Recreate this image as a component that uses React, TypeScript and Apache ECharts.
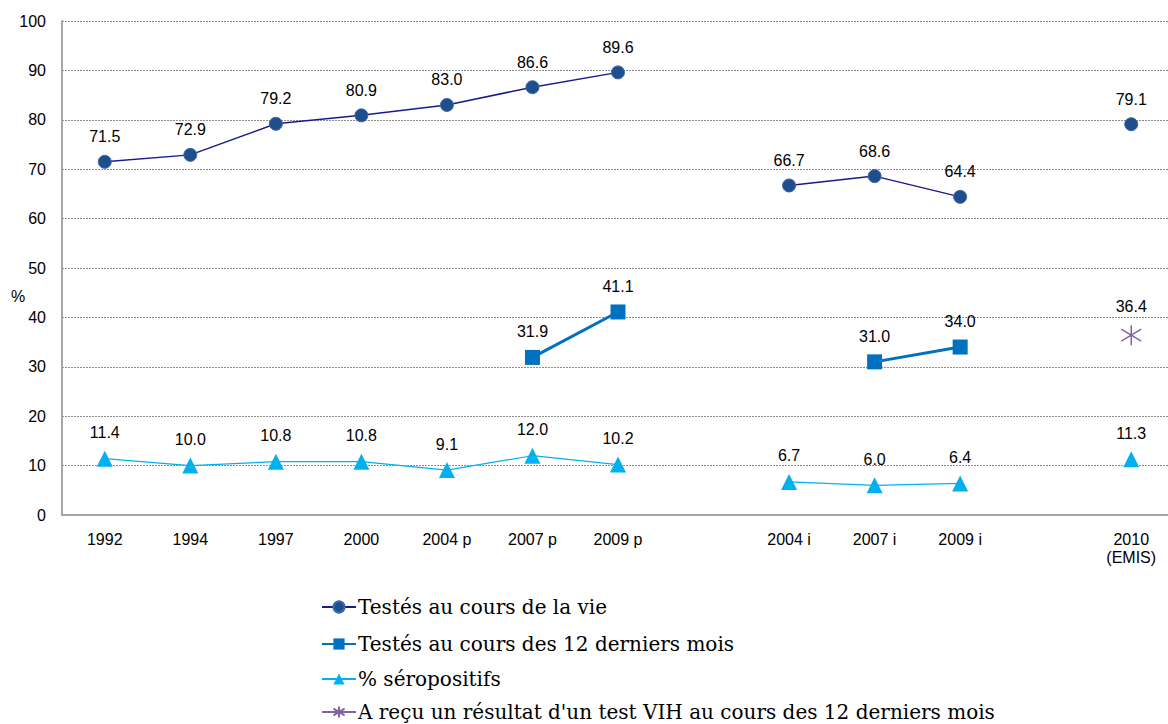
import React, { useEffect, useRef } from "react";
import * as echarts from "echarts";

const categories = ["1992", "1994", "1997", "2000", "2004 p", "2007 p", "2009 p", "", "2004 i", "2007 i", "2009 i", "", "2010\n(EMIS)"];
const testedLife = [71.5, 72.9, 79.2, 80.9, 83.0, 86.6, 89.6, null, 66.7, 68.6, 64.4, null, 79.1];
const tested12 = [null, null, null, null, null, 31.9, 41.1, null, null, 31.0, 34.0, null, null];
const seroPos = [11.4, 10.0, 10.8, 10.8, 9.1, 12.0, 10.2, null, 6.7, 6.0, 6.4, null, 11.3];
const resultVIH = [null, null, null, null, null, null, null, null, null, null, null, null, 36.4];
const seriesNames = [
  "Testés au cours de la vie",
  "Testés au cours des 12 derniers mois",
  "% séropositifs",
  "A reçu un résultat d'un test VIH au cours des 12 derniers mois",
];

export default function App() {
  const ref = useRef<HTMLDivElement>(null);
  useEffect(() => {
    const chart = echarts.init(ref.current!, null, { renderer: "svg" });
    const sans = "'Liberation Sans', Arial, sans-serif";
    const serif = "'DejaVu Serif', 'Liberation Serif', serif";
    const label = {
      show: true,
      position: "top",
      distance: 10,
      color: "#000",
      fontSize: 16,
      fontFamily: sans,
      formatter: (p: any) => (p.value == null ? "" : Number(p.value).toFixed(1)),
    };
    const legendTops = [597, 634, 669, 702];
    chart.setOption({
      animation: false,
      backgroundColor: "#fff",
      grid: { left: 62, top: 21, width: 1112, height: 494, containLabel: false, outerBoundsMode: "none" },
      xAxis: {
        type: "category",
        data: categories,
        boundaryGap: true,
        axisLine: { lineStyle: { color: "#a6a6a6", width: 2 } },
        axisTick: { show: false },
        axisLabel: {
          color: "#000",
          fontSize: 16,
          fontFamily: sans,
          margin: 15,
          interval: 0,
          lineHeight: 18,
        },
      },
      yAxis: {
        type: "value",
        min: 0,
        max: 100,
        interval: 10,
        axisLine: { show: true, lineStyle: { color: "#a6a6a6", width: 2 } },
        axisTick: { show: false },
        splitLine: { lineStyle: { color: "#8c8c8c", type: [2, 1], width: 1 } },
        axisLabel: {
          color: "#000",
          fontSize: 16,
          fontFamily: sans,
          margin: 16,
        },
      },
      graphic: [
        {
          type: "text",
          left: 11,
          top: 288,
          style: { text: "%", fontSize: 16, fill: "#000", fontFamily: sans },
        },
      ],
      legend: seriesNames.map((n, i) => ({
        orient: "vertical",
        left: 321,
        top: legendTops[i],
        padding: 0,
        itemWidth: 34,
        itemHeight: 14,
        textStyle: { fontSize: 20, color: "#000", fontFamily: serif, padding: [0, 0, 0, -3] },
        data: [n],
      })),
      series: [
        {
          name: seriesNames[0],
          type: "line",
          data: testedLife,
          connectNulls: false,
          symbol: "circle",
          symbolSize: 13,
          lineStyle: { color: "#1a1a8c", width: 1.5 },
          itemStyle: { color: "#1f4e8c", borderColor: "#3d6aa8", borderWidth: 1 },
          label,
        },
        {
          name: seriesNames[1],
          type: "line",
          data: tested12,
          connectNulls: false,
          symbol: "rect",
          symbolSize: 15,
          lineStyle: { color: "#0070c0", width: 3 },
          itemStyle: { color: "#0070c0" },
          label,
        },
        {
          name: seriesNames[2],
          type: "line",
          data: seroPos,
          connectNulls: false,
          symbol: "triangle",
          symbolSize: 16,
          lineStyle: { color: "#00b0f0", width: 1.2 },
          itemStyle: { color: "#00b0f0" },
          label,
        },
        {
          name: seriesNames[3],
          type: "line",
          data: resultVIH,
          symbol: "path://M0,-10 L0,10 M-9,-6 L9,6 M-9,6 L9,-6",
          symbolSize: 20,
          lineStyle: { color: "#8064a2", width: 2 },
          itemStyle: { color: "none", borderColor: "#8064a2", borderWidth: 1.5 },
          label: { ...label, distance: 8 },
        },
      ],
    });
    return () => chart.dispose();
  }, []);
  return <div ref={ref} style={{ width: 1168, height: 724, position: "absolute", left: 0, top: 0 }} />;
}
